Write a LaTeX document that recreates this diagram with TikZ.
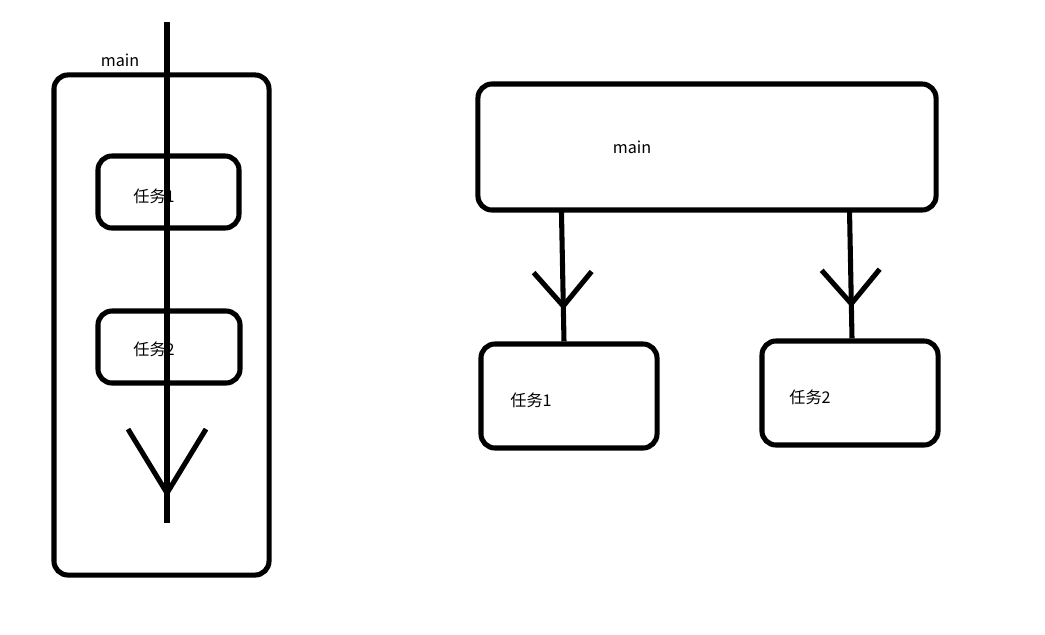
\documentclass[tikz,border=0pt]{standalone}
\usepackage{fontspec}
\newfontfamily\cjk{Noto Sans CJK SC}
\usetikzlibrary{arrows.meta,decorations.markings}

\tikzset{
	box/.style={draw, line width=3.6pt, rounded corners=10pt, inner sep=0pt},
	txt/.style={font=\cjk\fontsize{11.5}{13}\selectfont, inner sep=0pt},
	flow/.style={line width=3.6pt},
	bigtip/.style={postaction={decorate, decoration={markings,
		mark=at position #1 with {\arrow{Straight Barb[length=1.6cm,width=1.95cm]}}}}},
	smalltip/.style={postaction={decorate, decoration={markings,
		mark=at position #1 with {\arrow{Straight Barb[length=0.85cm,width=1.45cm]}}}}},
}

\begin{document}
\begin{tikzpicture}[x=0.025cm, y=-0.025cm]
	\useasboundingbox (0,0) rectangle (1045,634);
	
	% left: one thread
	\node[box, minimum width=5.375cm, minimum height=12.5cm] (outer) at (161.5,325) {};
	\node[box, minimum width=3.525cm, minimum height=1.8cm] (lt1) at (168.5,192) {};
	\node[box, minimum width=3.55cm, minimum height=1.8cm] (lt2) at (169,347) {};
	
	\node[txt] (lmain) at (120,60) {main};
	\node[txt] (llt1) at (154,196) {任务1};
	\node[txt] (llt2) at (154,349) {任务2};
	
	\coordinate (top) at (167,22);
	\coordinate (bot) at (167,523);
	\draw[flow, bigtip=0.95] (top) -- (bot);
	
	% right: main starts both tasks
	\node[box, minimum width=11.45cm, minimum height=3.15cm] (m) at (707,147) {};
	\node[box, minimum width=4.4cm, minimum height=2.6cm] (rt1) at (569,396) {};
	\node[box, minimum width=4.4cm, minimum height=2.6cm] (rt2) at (850,393) {};
	
	\node[txt] (rmain) at (632,147) {main};
	\node[txt] (lrt1) at (531,400) {任务1};
	\node[txt] (lrt2) at (810,397) {任务2};
	
	\draw[flow, smalltip=0.76] ([xshift=2.15cm,yshift=0.06cm]m.south west) -- ([xshift=-0.125cm]rt1.north);
	\draw[flow, smalltip=0.76] ([xshift=9.35cm,yshift=0.06cm]m.south west) -- ([xshift=0.05cm]rt2.north);
\end{tikzpicture}
\end{document}
